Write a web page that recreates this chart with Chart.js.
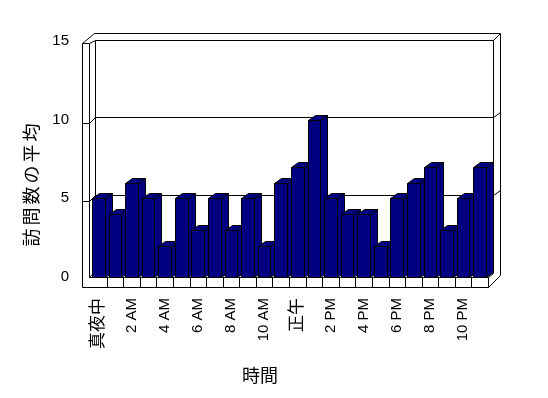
<!DOCTYPE html>
<html>
<head>
<meta charset="utf-8">
<script src="https://cdn.jsdelivr.net/npm/chart.js@4"></script>
<style>
  html, body { margin: 0; padding: 0; background: #ffffff; }
  #wrap { width: 548px; height: 398px; }
</style>
</head>
<body>
<div id="wrap"><canvas id="c" width="548" height="398"></canvas></div>
<script>
// ---- data ----
const categories = ['真夜中','1 AM','2 AM','3 AM','4 AM','5 AM','6 AM','7 AM','8 AM','9 AM','10 AM','11 AM',
                    '正午','1 PM','2 PM','3 PM','4 PM','5 PM','6 PM','7 PM','8 PM','9 PM','10 PM','11 PM'];
const visits = [5,4,6,5,2,5,3,5,3,5,2,6,7,10,5,4,4,2,5,6,7,3,5,7];
const yTicks = [0,5,10,15];
const yTitle = '訪問数の平均';
const xTitle = '時間';

const FONT = "'Liberation Sans', 'Noto Sans CJK JP', sans-serif";

function px(v){ return Math.round(v) + 0.5; }

const box3d = {
  id: 'box3d',
  beforeDatasetsDraw(chart) {
    const ctx = chart.ctx;
    const a = chart.chartArea;
    const ys = chart.scales.y;
    const L = a.left, R = a.right, T = a.top, B = a.bottom;
    const xo = L - 8, xi = L - 1, xb = L + 5, xr = R + 5, xro = R + 12;
    const topIn = ys.getPixelForValue(15) - 1, topOut = topIn - 7, lwTop = topIn + 3;
    const floorF = B + 10;
    ctx.save();
    ctx.strokeStyle = '#000';
    ctx.lineWidth = 1;
    function line(pts){
      ctx.beginPath();
      ctx.moveTo(px(pts[0][0]), px(pts[0][1]));
      for (let i=1;i<pts.length;i++) ctx.lineTo(px(pts[i][0]), px(pts[i][1]));
      ctx.stroke();
    }
    // walls
    line([[xo, floorF],[xo, lwTop],[xb-1, topOut],[xro, topOut],[xro, B-2]]);
    line([[xi, B],[xi, lwTop],[xb, topIn],[xr, topIn],[xr, B-4]]);
    line([[xo, lwTop],[xi, lwTop]]);
    line([[xr, topIn],[xro, topOut]]);
    line([[xb, topIn],[xb, B-7],[xi, B]]);
    // gridlines
    [5,10].forEach(v => {
      const y = ys.getPixelForValue(v);
      line([[xo, y+3],[xi, y+3],[xb, y-3],[xr, y-3],[xro, y-8]]);
    });
    // floor
    line([[xi, B],[R, B]]);
    line([[xo, floorF],[R, floorF],[xro, B-2]]);
    line([[R, B],[R, floorF]]);
    line([[R, B],[xr, B-4]]);
    const n = categories.length;
    const w = (R - L) / n;
    for (let i=1;i<n;i++) {
      const x = L + i*w;
      line([[x, B],[x, floorF]]);
    }
    ctx.restore();
  },
  afterDatasetsDraw(chart) {
    const ctx = chart.ctx;
    const meta = chart.getDatasetMeta(0);
    const DX = 7, DY = -5;
    ctx.save();
    ctx.strokeStyle = '#000';
    ctx.fillStyle = '#000080';
    ctx.lineWidth = 1;
    meta.data.forEach(el => {
      const p = el.getProps(['x','y','base','width'], true);
      const x0 = Math.round(p.x - p.width/2) + 0.5;
      const x1 = Math.round(p.x + p.width/2) + 0.5;
      const yt = Math.round(p.y) + 0.5;
      const yb = Math.round(p.base) + 0.5;
      ctx.beginPath();
      ctx.moveTo(x1, yt); ctx.lineTo(x1+DX, yt+DY); ctx.lineTo(x1+DX, yb+DY); ctx.lineTo(x1, yb); ctx.closePath();
      ctx.fill(); ctx.stroke();
      ctx.beginPath();
      ctx.moveTo(x0, yt); ctx.lineTo(x0+DX, yt+DY); ctx.lineTo(x1+DX, yt+DY); ctx.lineTo(x1, yt); ctx.closePath();
      ctx.fill(); ctx.stroke();
      ctx.beginPath();
      ctx.rect(x0, yt, x1-x0, yb-yt);
      ctx.fill(); ctx.stroke();
    });
    ctx.restore();
  },
  afterDraw(chart) {
    const ctx = chart.ctx;
    ctx.save();
    ctx.fillStyle = '#000';
    ctx.font = "18px " + FONT;
    ctx.textAlign = 'center';
    ctx.textBaseline = 'middle';
    ctx.fillText(xTitle, 260, 377);
    ctx.translate(33, 185);
    ctx.rotate(-Math.PI/2);
    ctx.letterSpacing = '3px';
    ctx.fillText(yTitle, 1.5, 0);
    ctx.restore();
  }
};

new Chart(document.getElementById('c'), {
  type: 'bar',
  data: {
    labels: categories,
    datasets: [{
      data: visits,
      backgroundColor: 'rgba(0,0,0,0)',
      borderWidth: 0,
      categoryPercentage: 1.0,
      barPercentage: 0.76
    }]
  },
  options: {
    responsive: false,
    animation: false,
    events: [],
    layout: { padding: { top: 41, right: 60, left: 0, bottom: 0 } },
    plugins: { legend: { display: false }, tooltip: { enabled: false } },
    scales: {
      x: {
        grid: { display: false, drawTicks: false },
        border: { display: false },
        ticks: {
          autoSkip: false, maxRotation: 90, minRotation: 90, padding: 21,
          color: '#000',
          font: c => ({ family: FONT, size: /[^\x00-\x7F]/.test(categories[c.index] || '') ? 17 : 15 }),
          callback: (v, i) => (i % 2 === 0 ? categories[i] : '')
        },
        afterFit: s => { s.height = 121; }
      },
      y: {
        min: 0, max: 15,
        afterBuildTicks: s => { s.ticks = yTicks.map(v => ({ value: v })); },
        grid: { display: false, drawTicks: false },
        border: { display: false },
        ticks: { padding: 21, color: '#000', font: { family: FONT, size: 15 } },
        afterFit: s => { s.width = 90; }
      }
    }
  },
  plugins: [box3d]
});
</script>
</body>
</html>
